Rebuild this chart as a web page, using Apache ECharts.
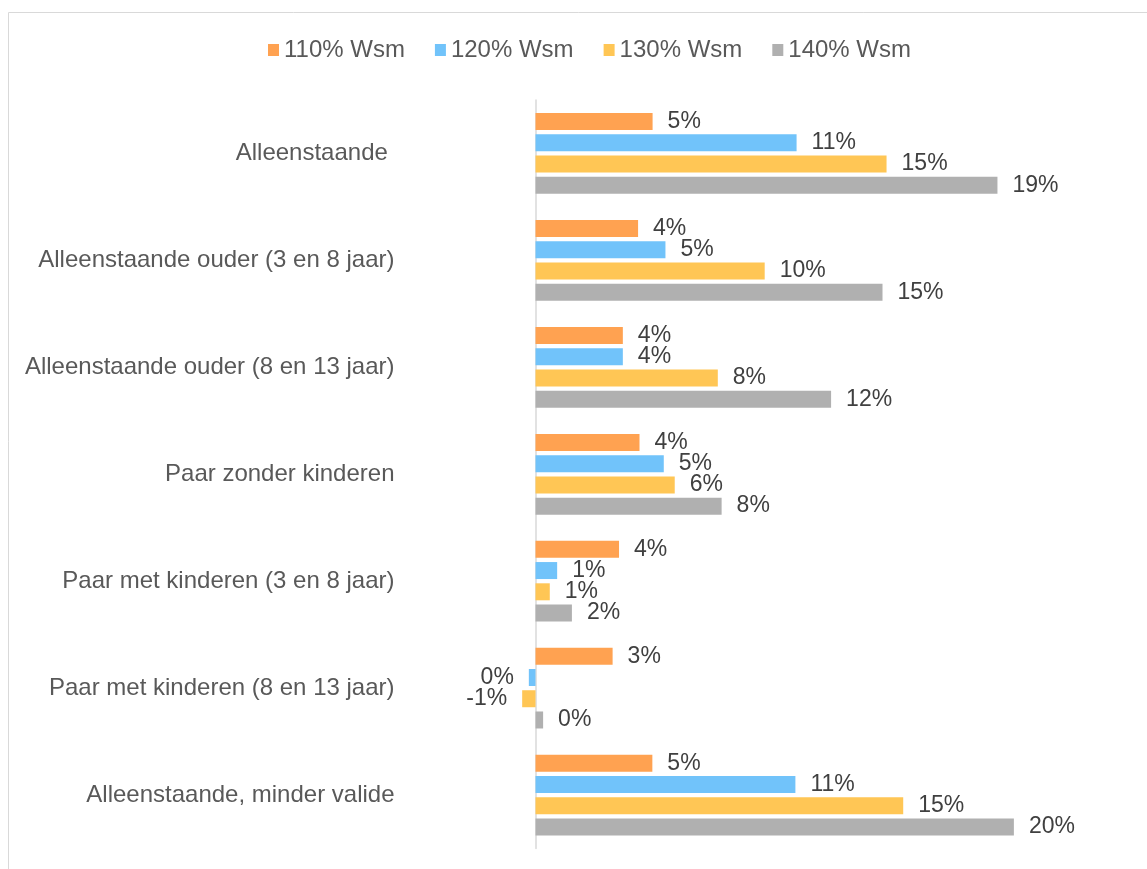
<!DOCTYPE html>
<html>
<head>
<meta charset="utf-8">
<script src="https://cdn.jsdelivr.net/npm/echarts@6/dist/echarts.min.js"></script>
<style>
  html, body { margin: 0; padding: 0; background: #fff; }
  #main { width: 1147px; height: 869px; }
</style>
</head>
<body>
<div id="main"></div>
<script>
var categories = [
  'Alleenstaande ',
  'Alleenstaande ouder (3 en 8 jaar)',
  'Alleenstaande ouder (8 en 13 jaar)',
  'Paar zonder kinderen',
  'Paar met kinderen (3 en 8 jaar)',
  'Paar met kinderen (8 en 13 jaar)',
  'Alleenstaande, minder valide'
];
var seriesNames = ['110% Wsm', '120% Wsm', '130% Wsm', '140% Wsm'];
var wsm110 = [4.92, 4.31, 3.67, 4.37, 3.51, 3.24, 4.91];
var wsm120 = [10.97, 5.46, 3.67, 5.39, 0.91, -0.28, 10.92];
var wsm130 = [14.75, 9.63, 7.66, 5.85, 0.60, -0.56, 15.45];
var wsm140 = [19.41, 14.58, 12.42, 7.82, 1.53, 0.32, 20.10];
var colors = ['#FFA251', '#71C3FA', '#FFC655', '#B0B0B0'];

var myChart = echarts.init(document.getElementById('main'));

function makeSeries(name, values, color) {
  return {
    name: name,
    type: 'bar',
    barWidth: 17,
    barGap: '25%',
    itemStyle: { color: color },
    label: {
      show: true,
      position: 'right',
      distance: 15,
      fontFamily: 'Liberation Sans, Arial, sans-serif',
      fontSize: 23,
      color: '#404040',
      formatter: function (p) { return Math.round(p.value) + '%'; }
    },
    data: values.map(function (v) {
      return v < 0 ? { value: v, label: { position: 'left' } } : v;
    })
  };
}

var option = {
  animation: false,
  color: colors,
  legend: {
    top: 33,
    left: 263,
    itemWidth: 11,
    itemHeight: 12,
    itemGap: 30,
    icon: 'rect',
    textStyle: {
      fontFamily: 'Liberation Sans, Arial, sans-serif',
      fontSize: 24,
      color: '#595959'
    },
    data: seriesNames
  },
  graphic: [{
    type: 'rect',
    shape: { x: 8.5, y: 12.5, width: 1200, height: 900 },
    style: { fill: 'none', stroke: '#d9d9d9', lineWidth: 1 },
    silent: true
  }],
  grid: {
    left: 416.5,
    right: 16.5,
    top: 100,
    bottom: 20.5,
    containLabel: false,
    outerBoundsMode: 'none'
  },
  xAxis: {
    type: 'value',
    min: -5,
    max: 25,
    show: false
  },
  yAxis: {
    type: 'category',
    inverse: true,
    data: categories,
    axisTick: { show: false },
    axisLine: { onZero: true, lineStyle: { color: '#d9d9d9', width: 1.5 } },
    axisLabel: {
      margin: 22,
      fontFamily: 'Liberation Sans, Arial, sans-serif',
      fontSize: 24,
      color: '#595959'
    }
  },
  series: [
    makeSeries(seriesNames[0], wsm110, colors[0]),
    makeSeries(seriesNames[1], wsm120, colors[1]),
    makeSeries(seriesNames[2], wsm130, colors[2]),
    makeSeries(seriesNames[3], wsm140, colors[3])
  ]
};
myChart.setOption(option);
</script>
</body>
</html>
